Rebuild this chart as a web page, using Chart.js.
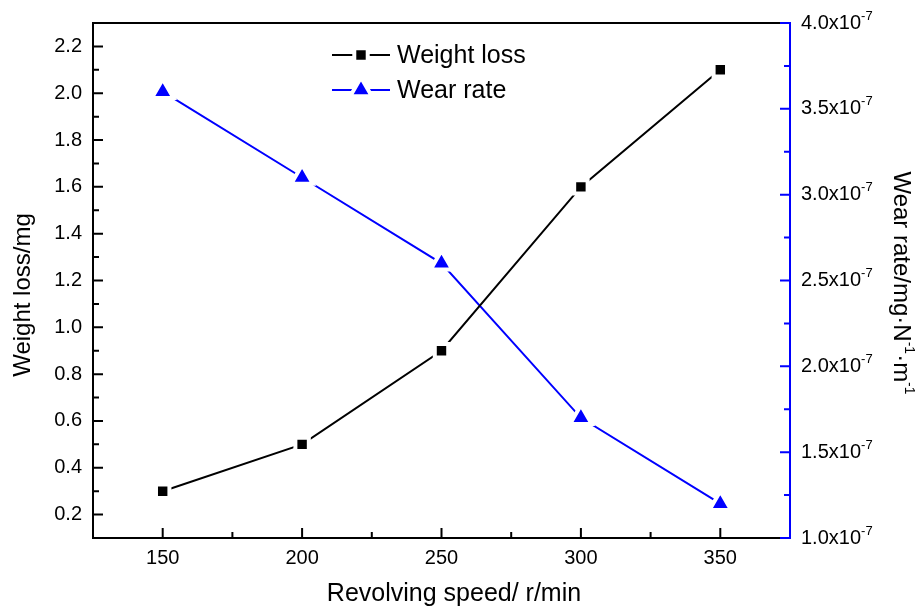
<!DOCTYPE html>
<html>
<head>
<meta charset="utf-8">
<script src="https://cdn.jsdelivr.net/npm/chart.js@4.4.0/dist/chart.umd.min.js"></script>
<style>
  html, body { margin: 0; padding: 0; background: #fff; }
  #wrap { width: 918px; height: 607px; }
</style>
</head>
<body>
<div id="wrap"><canvas id="wearChart" width="918" height="607"></canvas></div>
<script>
const speeds = [150, 200, 250, 300, 350];
const weightLoss = [0.3, 0.5, 0.9, 1.6, 2.1];
const wearRate = [3.6e-7, 3.1e-7, 2.6e-7, 1.7e-7, 1.2e-7];

const speedTicks = [150, 200, 250, 300, 350];
const lossTicks = [0.2, 0.4, 0.6, 0.8, 1.0, 1.2, 1.4, 1.6, 1.8, 2.0, 2.2];
const rateTicks = [1.0e-7, 1.5e-7, 2.0e-7, 2.5e-7, 3.0e-7, 3.5e-7, 4.0e-7];

const FONT = '"Liberation Sans", Arial, sans-serif';
const BLUE = '#0000ff';

// midpoints between major ticks -> minor tick positions
function mids(arr) {
    return arr.slice(1).map((v, i) => (v + arr[i]) / 2);
}

function setTicks(values) {
    return (scale) => { scale.ticks = values.map(v => ({ value: v })); };
}

// draws inward ticks, frame, right axis labels, axis titles and legend
const axisFrame = {
    id: 'axisFrame',
    afterDraw(chart) {
        const { ctx, chartArea: a, scales } = chart;
        const { x, y, y1 } = scales;
        ctx.save();
        ctx.lineWidth = 2;

        // frame
        ctx.strokeStyle = '#000';
        ctx.beginPath();
        ctx.moveTo(a.right, a.top);
        ctx.lineTo(a.left, a.top);
        ctx.lineTo(a.left, a.bottom);
        ctx.lineTo(a.right, a.bottom);
        ctx.stroke();
        ctx.strokeStyle = BLUE;
        ctx.beginPath();
        ctx.moveTo(a.right, a.top - 1);
        ctx.lineTo(a.right, a.bottom + 1);
        ctx.stroke();

        // tick marks
        ctx.lineWidth = 2;
        ctx.strokeStyle = '#000';
        ctx.beginPath();
        speedTicks.forEach(v => { const px = x.getPixelForValue(v); ctx.moveTo(px, a.bottom); ctx.lineTo(px, a.bottom - 10); });
        mids(speedTicks).forEach(v => { const px = x.getPixelForValue(v); ctx.moveTo(px, a.bottom); ctx.lineTo(px, a.bottom - 6); });
        lossTicks.forEach(v => { const py = y.getPixelForValue(v); ctx.moveTo(a.left, py); ctx.lineTo(a.left + 10, py); });
        mids(lossTicks).forEach(v => { const py = y.getPixelForValue(v); ctx.moveTo(a.left, py); ctx.lineTo(a.left + 6, py); });
        ctx.stroke();

        ctx.strokeStyle = BLUE;
        ctx.beginPath();
        rateTicks.forEach(v => { const py = y1.getPixelForValue(v); ctx.moveTo(a.right, py); ctx.lineTo(a.right - 10, py); });
        mids(rateTicks).forEach(v => { const py = y1.getPixelForValue(v); ctx.moveTo(a.right, py); ctx.lineTo(a.right - 6, py); });
        ctx.stroke();

        // right axis labels  n.nx10^-7
        ctx.fillStyle = '#000';
        ctx.textAlign = 'left';
        ctx.textBaseline = 'middle';
        rateTicks.forEach(v => {
            const py = y1.getPixelForValue(v);
            const base = (v * 1e7).toFixed(1) + 'x10';
            ctx.font = '20px ' + FONT;
            ctx.fillText(base, a.right + 11, py);
            const w = ctx.measureText(base).width;
            ctx.font = '13px ' + FONT;
            ctx.fillText('-7', a.right + 11 + w, py - 7);
        });

        // left title
        ctx.save();
        ctx.translate(23, 295);
        ctx.rotate(-Math.PI / 2);
        ctx.font = '24px ' + FONT;
        ctx.textAlign = 'center';
        ctx.fillText('Weight loss/mg', 0, 0);
        ctx.restore();

        // bottom title
        ctx.font = '25px ' + FONT;
        ctx.textAlign = 'center';
        ctx.textBaseline = 'alphabetic';
        ctx.fillText('Revolving speed/ r/min', 454, 601);

        // right title with superscripts
        const parts = [
            ['Wear rate/mg\u00b7N', false],
            ['-1', true],
            ['\u00b7m', false],
            ['-1', true]
        ];
        const measure = p => { ctx.font = (p[1] ? '14px ' : '24px ') + FONT; return ctx.measureText(p[0]).width; };
        const total = parts.reduce((s, p) => s + measure(p), 0);
        ctx.save();
        ctx.translate(901, 283);
        ctx.rotate(Math.PI / 2);
        ctx.textAlign = 'left';
        ctx.textBaseline = 'middle';
        let cx = -total / 2;
        parts.forEach(p => {
            const w = measure(p);
            ctx.fillText(p[0], cx, p[1] ? -8 : 0);
            cx += w;
        });
        ctx.restore();

        // legend
        const rows = [55, 90];
        chart.data.datasets.forEach((ds, i) => {
            const ly = rows[i];
            ctx.strokeStyle = ds.borderColor;
            ctx.lineWidth = 2;
            ctx.beginPath();
            ctx.moveTo(332, ly);
            ctx.lineTo(390, ly);
            ctx.stroke();
            ctx.fillStyle = ds.pointBackgroundColor;
            ctx.strokeStyle = '#fff';
            ctx.lineWidth = ds.pointBorderWidth;
            Chart.helpers.drawPoint(ctx, {
                pointStyle: ds.pointStyle,
                radius: ds.pointRadius,
                rotation: 0,
                borderWidth: ds.pointBorderWidth
            }, 361, ly);
            ctx.fillStyle = '#000';
            ctx.font = '25px ' + FONT;
            ctx.textAlign = 'left';
            ctx.textBaseline = 'middle';
            ctx.fillText(ds.label, 397, ly + 1);
        });

        ctx.restore();
    }
};

const chart = new Chart(document.getElementById('wearChart'), {
    type: 'line',
    data: {
        datasets: [
            {
                label: 'Weight loss',
                data: speeds.map((s, i) => ({ x: s, y: weightLoss[i] })),
                yAxisID: 'y',
                borderColor: '#000',
                borderWidth: 2,
                pointStyle: 'rect',
                pointRadius: 9.5,
                pointBackgroundColor: '#000',
                pointBorderColor: '#fff',
                pointBorderWidth: 4,
                tension: 0
            },
            {
                label: 'Wear rate',
                data: speeds.map((s, i) => ({ x: s, y: wearRate[i] })),
                yAxisID: 'y1',
                borderColor: BLUE,
                borderWidth: 2,
                pointStyle: 'triangle',
                pointRadius: 12.5,
                pointBackgroundColor: BLUE,
                pointBorderColor: '#fff',
                pointBorderWidth: 4,
                tension: 0
            }
        ]
    },
    options: {
        responsive: false,
        animation: false,
        devicePixelRatio: 1,
        layout: { padding: { top: 22, left: 0, right: 0, bottom: 0 } },
        plugins: {
            legend: { display: false },
            tooltip: { enabled: false }
        },
        scales: {
            x: {
                type: 'linear',
                min: 125,
                max: 375,
                afterBuildTicks: setTicks(speedTicks),
                afterFit: (s) => { s.height = 69; },
                grid: { display: false, drawTicks: false },
                border: { display: false },
                ticks: { color: '#000', padding: 8, font: { family: FONT, size: 20 } }
            },
            y: {
                position: 'left',
                min: 0.1,
                max: 2.3,
                afterBuildTicks: setTicks(lossTicks),
                afterFit: (s) => { s.width = 93; },
                grid: { display: false, drawTicks: false },
                border: { display: false },
                ticks: {
                    color: '#000',
                    padding: 11,
                    font: { family: FONT, size: 20 },
                    callback: v => v.toFixed(1)
                }
            },
            y1: {
                position: 'right',
                min: 1.0e-7,
                max: 4.0e-7,
                afterBuildTicks: setTicks(rateTicks),
                afterFit: (s) => { s.width = 128; },
                grid: { display: false, drawTicks: false },
                border: { display: false },
                ticks: { display: false }
            }
        }
    },
    plugins: [axisFrame]
});
</script>
</body>
</html>
